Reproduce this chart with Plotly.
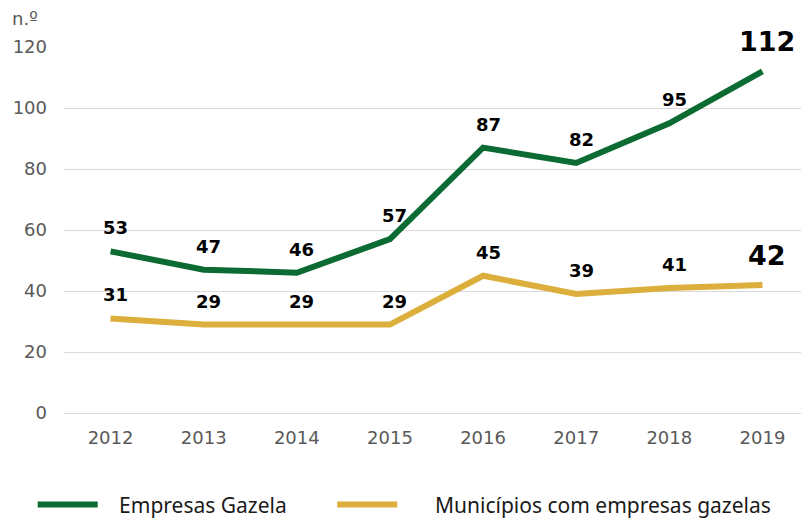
import plotly.graph_objects as go

years = ["2012", "2013", "2014", "2015", "2016", "2017", "2018", "2019"]
empresas = [53, 47, 46, 57, 87, 82, 95, 112]
municipios = [31, 29, 29, 29, 45, 39, 41, 42]
y_ticks = [0, 20, 40, 60, 80, 100, 120]
series_names = ["Empresas Gazela", "Municípios com empresas gazelas"]

GREEN = "#0b6b33"
YELLOW = "#dcae3b"
NB = "\u00a0"

fig = go.Figure()
fig.add_trace(go.Scatter(x=years, y=empresas, mode="lines", name=NB * 3 + series_names[0],
                         line=dict(color=GREEN, width=6), legend="legend"))
fig.add_trace(go.Scatter(x=years, y=municipios, mode="lines", name=NB * 6 + series_names[1],
                         line=dict(color=YELLOW, width=6), legend="legend2"))

annotations = []
for series in (empresas, municipios):
    n = len(series)
    for i, v in enumerate(series):
        last = i == n - 1
        annotations.append(dict(x=i, y=v, xref="x", yref="y", text="<b>%d</b>" % v, showarrow=False,
                                xanchor="center", yanchor="bottom",
                                yshift=12 if last else 11, xshift=5,
                                font=dict(family="DejaVu Sans", size=27 if last else 18,
                                          color="black")))
annotations.append(dict(xref="paper", yref="paper", x=-0.0725, y=1.079, text="n.º",
                        showarrow=False, xanchor="left", yanchor="middle",
                        font=dict(family="DejaVu Sans", size=18, color="#595959")))

legend_font = dict(family="Noto Sans", size=21, color="#1a1a1a")
fig.update_layout(
    width=801, height=512,
    margin=dict(l=56, r=0, t=39, b=107, autoexpand=False),
    plot_bgcolor="white", paper_bgcolor="white",
    showlegend=True,
    legend=dict(orientation="h", x=-0.042, xanchor="left", y=-0.251, yanchor="middle",
                font=legend_font, itemwidth=60, bgcolor="rgba(0,0,0,0)"),
    legend2=dict(orientation="h", x=0.36, xanchor="left", y=-0.251, yanchor="middle",
                 font=legend_font, itemwidth=60, bgcolor="rgba(0,0,0,0)"),
    annotations=annotations,
    xaxis=dict(type="category", range=[-0.5, 7.5], showgrid=False,
               showline=False, zeroline=False, ticks="",
               tickfont=dict(family="DejaVu Sans", size=18, color="#595959"),
               ticklabelstandoff=12),
    yaxis=dict(range=[0, 120], tickvals=y_ticks, showgrid=True, gridcolor="#d9d9d9",
               gridwidth=1, zeroline=True, zerolinecolor="#d9d9d9", zerolinewidth=1,
               showline=False, ticks="",
               tickfont=dict(family="DejaVu Sans", size=18, color="#595959"),
               ticklabelstandoff=16),
)
for tr in fig.data:
    tr.cliponaxis = False

fig.write_html("out.html")
